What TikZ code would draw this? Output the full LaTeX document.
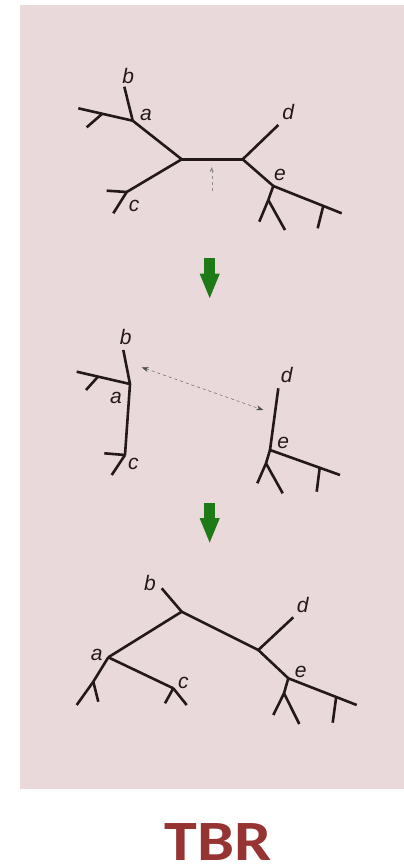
\documentclass[tikz,border=0pt]{standalone}
\usepackage{fontspec}
\setsansfont{Liberation Sans}
\newfontfamily\titlefont{Carlito}
\usepackage{tikz}
\usetikzlibrary{arrows.meta,calc}
\definecolor{panelpink}{RGB}{234,217,218}
\definecolor{treeink}{RGB}{35,25,25}
\definecolor{stepgreen}{RGB}{30,122,22}
\definecolor{titlered}{RGB}{150,52,52}

\begin{document}
\begin{tikzpicture}[
  x=1pt, y=-1pt,
  br/.style={draw=treeink, line width=2.6pt, line join=round},
  lbl/.style={font=\sffamily\itshape\fontsize{21}{21}\selectfont, text=treeink, inner sep=0pt},
  hint/.style={-{Stealth[length=5pt,width=4pt]}, thin, dashed, black!45},
  swap/.style={{Stealth[length=7pt,width=5pt]}-{Stealth[length=7pt,width=5pt]}, thin, dashed, black!70},
  down/.style={-{Triangle[length=26pt,width=18pt]}, line width=10.5pt, stepgreen},
]
\useasboundingbox (0,0) rectangle (404,867);

%% ---- PANEL ----
\fill[panelpink] (20,5) rectangle (404,789);

%% ---- TREE 1: original tree ----
\coordinate (oL) at (181.7,159.3);
\coordinate (oR) at (242.7,159.3);
\coordinate (oa) at (132.7,120.7);
\coordinate (ob) at (124.3,86.7);
\coordinate (oa1) at (78.3,108.3);
\coordinate (oa2) at ($(oa)!0.56!(oa1)$);
\coordinate (oa3) at (86.7,127.3);
\coordinate (oc) at (126.7,192);
\coordinate (oc1) at (106.7,190.7);
\coordinate (oc2) at (113.3,213.3);
\coordinate (od) at (278.3,125);
\coordinate (oe) at (273.3,186);
\coordinate (oe1) at (341.7,213.3);
\coordinate (oe2) at ($(oe)!0.73!(oe1)$);
\coordinate (oe3) at (317.7,228.3);
\coordinate (oe4) at (268.3,200);
\coordinate (oe5) at (259.3,221.7);
\coordinate (oe6) at (285,230);
\foreach \a/\b in {oL/oR,oL/oa,oa/ob,oa/oa1,oa2/oa3,oL/oc,oc/oc1,oc/oc2,
                   oR/od,oR/oe,oe/oe1,oe2/oe3,oe/oe4,oe4/oe5,oe4/oe6}{\draw[br](\a)--(\b);}
\node[lbl] (obl) at (128.3,76)  {b};
\node[lbl] (oal) at (146,115)   {a};
\node[lbl] (ocl) at (134,206)   {c};
\node[lbl] (odl) at (288.3,111.7) {d};
\node[lbl] (oel) at (280,175)   {e};
% cut here
\coordinate (ocut0) at (211.7,191);
\coordinate (ocut1) at (211.7,167);
\draw[hint] (ocut0) -- (ocut1);

%% ---- STEP ARROW 1 ----
\coordinate (g1a) at (209.7,258);
\coordinate (g1b) at (209.7,299.5);
\draw[down] (g1a) -- (g1b);

%% ---- TREE 2: split into two ----
\coordinate (sb) at (123.3,350);
\coordinate (sa) at (130,384);
\coordinate (sa1) at (76.7,371.7);
\coordinate (sa2) at ($(sa)!0.6!(sa1)$);
\coordinate (sa3) at (86,390);
\coordinate (sc) at (125,455);
\coordinate (sc1) at (104.3,453.3);
\coordinate (sc2) at (111.7,475);
\coordinate (sd) at (278.3,388.3);
\coordinate (se) at (270,450);
\coordinate (se1) at (340,475);
\coordinate (se2) at ($(se)!0.71!(se1)$);
\coordinate (se3) at (316.7,491.7);
\coordinate (se4) at (266,463.3);
\coordinate (se5) at (257.3,483.3);
\coordinate (se6) at (282.7,493.3);
\foreach \a/\b in {sa/sb,sa/sa1,sa2/sa3,sa/sc,sc/sc1,sc/sc2,
                   se/sd,se/se1,se2/se3,se/se4,se4/se5,se4/se6}{\draw[br](\a)--(\b);}
\node[lbl] (sbl) at (125.7,336.7) {b};
\node[lbl] (sal) at (116,398.3)   {a};
\node[lbl] (scl) at (133.3,464)   {c};
\node[lbl] (sdl) at (286.7,375)   {d};
\node[lbl] (sel) at (283.3,443.3) {e};
% rejoin anywhere
\coordinate (sx1) at (141.7,367.3);
\coordinate (sx2) at (263.3,410);
\draw[swap] (sx1) -- (sx2);

%% ---- STEP ARROW 2 ----
\coordinate (g2a) at (209.7,502.7);
\coordinate (g2b) at (209.7,544);
\draw[down] (g2a) -- (g2b);

%% ---- TREE 3: reconnected ----
\coordinate (rT) at (181.7,611.7);
\coordinate (rb) at (161.7,588.3);
\coordinate (ra) at (108.3,657.3);
\coordinate (rc) at (173.3,688.3);
\coordinate (rc1) at (165,703.3);
\coordinate (rc2) at (186.7,705);
\coordinate (ra1) at (93.3,681.7);
\coordinate (ra2) at (76.7,705);
\coordinate (ra3) at (98.3,701.7);
\coordinate (rR) at (258.3,650);
\coordinate (rd) at (293.3,617.3);
\coordinate (re) at (288.3,678.3);
\coordinate (re1) at (356.7,705);
\coordinate (re2) at ($(re)!0.70!(re1)$);
\coordinate (re3) at (332.7,722.7);
\coordinate (re4) at (284,693.3);
\coordinate (re5) at (273.3,715);
\coordinate (re6) at (299.3,724);
\foreach \a/\b in {rT/rb,rT/ra,ra/rc,rc/rc1,rc/rc2,ra/ra1,ra1/ra2,ra1/ra3,
                   rT/rR,rR/rd,rR/re,re/re1,re2/re3,re/re4,re4/re5,re4/re6}{\draw[br](\a)--(\b);}
\node[lbl] (rbl) at (150,583.3)   {b};
\node[lbl] (ral) at (96.7,655)    {a};
\node[lbl] (rcl) at (183.3,683.3) {c};
\node[lbl] (rdl) at (302.7,605)   {d};
\node[lbl] (rel) at (300.7,671.7) {e};

%% ---- TITLE ----
\node[anchor=base, inner sep=0pt, text=titlered,
      font=\titlefont\bfseries\fontsize{57}{57}\selectfont] (ttl) at (218,860) {\scalebox{1.16}[1]{TBR}};

\end{tikzpicture}
\end{document}
